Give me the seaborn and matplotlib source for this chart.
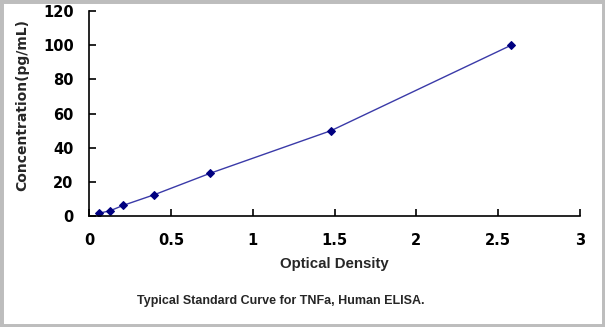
import matplotlib
matplotlib.use("Agg")
import matplotlib.pyplot as plt
import seaborn as sns
import pandas as pd
from matplotlib.patches import Rectangle

od = [0.06, 0.13, 0.21, 0.40, 0.74, 1.48, 2.58]
conc = [1.56, 3.12, 6.25, 12.5, 25.0, 50.0, 100.0]
x_ticks = [0, 0.5, 1, 1.5, 2, 2.5, 3]
x_tick_labels = ["0", "0.5", "1", "1.5", "2", "2.5", "3"]
y_ticks = [0, 20, 40, 60, 80, 100, 120]

df = pd.DataFrame({"od": od, "conc": conc})

sns.set_style("white")
plt.rcParams['font.family'] = ['Liberation Sans', 'DejaVu Sans']

fig = plt.figure(figsize=(6.05, 3.27), dpi=100)
ax = fig.add_axes([89/605, 1-216/327, (580-89)/605, (216-11)/327])

sns.lineplot(data=df, x="od", y="conc", ax=ax, color="#3a3aa8", linewidth=1.0,
             marker="D", markersize=4.5, markerfacecolor="#000080",
             markeredgecolor="#000080")

ax.set_xlim(0, 3)
ax.set_ylim(0, 120)
ax.set_xticks(x_ticks)
ax.set_xticklabels(x_tick_labels)
ax.set_yticks(y_ticks)
for s in ["top", "right"]:
    ax.spines[s].set_visible(False)
for s in ["left", "bottom"]:
    ax.spines[s].set_color("black")
    ax.spines[s].set_linewidth(1.2)
ax.tick_params(axis="both", direction="in", length=5, width=1.2, colors="black",
               labelsize=10.5, bottom=True, left=True)
ax.tick_params(axis="x", pad=12)
ax.tick_params(axis="y", pad=11)
for lab in ax.get_xticklabels() + ax.get_yticklabels():
    lab.set_fontweight("bold")
    lab.set_family("DejaVu Sans")
ax.set_xlabel("Optical Density", fontsize=10.8, fontweight="bold", labelpad=7)
ax.set_ylabel("Concentration(pg/mL)", fontsize=10, fontweight="bold",
              family="DejaVu Sans", va="center")
ax.yaxis.set_label_coords((22 - 89) / 491, (216 - 105) / 205)
ax.grid(False)

fig.text(281/605, 1-301/327, "Typical Standard Curve for TNFa, Human ELISA.",
         ha="center", va="center", fontsize=9, fontweight="bold")

fig.patches.append(Rectangle((0, 0), 1, 1, transform=fig.transFigure,
                             fill=False, edgecolor="#bdbdbd", linewidth=5))

fig.savefig("out.png", dpi=100)
